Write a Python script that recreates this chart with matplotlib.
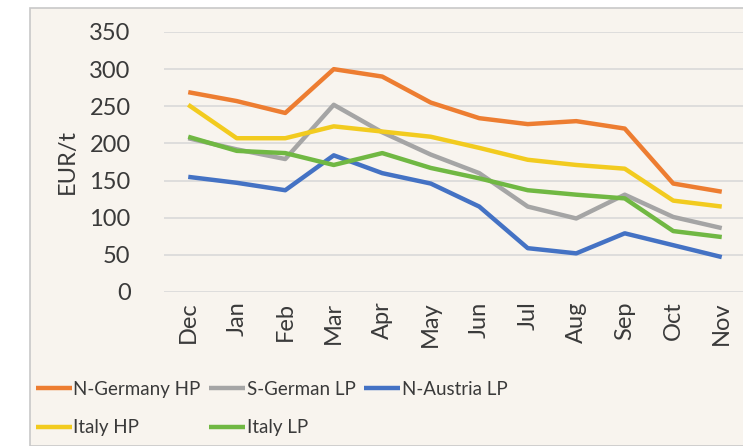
import matplotlib.pyplot as plt
from matplotlib.patches import Rectangle

months = ["Dec", "Jan", "Feb", "Mar", "Apr", "May", "Jun", "Jul", "Aug", "Sep", "Oct", "Nov"]
n_germany_hp = [269, 257, 241, 300, 290, 255, 234, 226, 230, 220, 146, 135]
s_german_lp = [207, 192, 179, 252, 215, 185, 160, 115, 99, 131, 101, 86]
n_austria_lp = [155, 147, 137, 184, 160, 146, 115, 59, 52, 79, 63, 47]
italy_hp = [252, 207, 207, 223, 216, 209, 194, 178, 171, 166, 123, 115]
italy_lp = [209, 190, 187, 171, 187, 167, 153, 137, 131, 126, 82, 74]

series = [
    ("N-Germany HP", n_germany_hp, "#ED7D31"),
    ("S-German LP", s_german_lp, "#A5A5A5"),
    ("N-Austria LP", n_austria_lp, "#4472C4"),
    ("Italy HP", italy_hp, "#F2CB1F"),
    ("Italy LP", italy_lp, "#70B843"),
]

plt.rcParams['font.family'] = ['Lato', 'DejaVu Sans']
bg = "#F8F4EE"
txt = "#3A3A3A"

fig = plt.figure(figsize=(7.43, 4.46), dpi=100)
fig.patch.set_facecolor("white")
fig.patches.append(Rectangle((30 / 743, 0), 1, 1 - 8 / 446, transform=fig.transFigure,
                             facecolor=bg, edgecolor="#C8C8C8", linewidth=1.2, zorder=-10))

ax = fig.add_axes([164 / 743, 1 - 292 / 446, 582 / 743, 260 / 446])
ax.set_facecolor(bg)
x = list(range(len(months)))
lines = {}
for name, vals, col in series:
    lines[name], = ax.plot(x, vals, color=col, linewidth=3.2, label=name, solid_capstyle="butt")

ax.set_xlim(-0.5, 11.5)
ax.set_ylim(0, 350)
ax.set_yticks(range(0, 351, 50))
ax.set_xticks(x)
ax.set_xticklabels(months, rotation=90, fontsize=17, color=txt)
ax.tick_params(axis="y", labelsize=17, labelcolor=txt, length=0, pad=24)
ax.tick_params(axis="x", length=0, pad=7)
ax.grid(axis="y", color="#D9D9D9", linewidth=1.2)
ax.set_axisbelow(True)
for s in ax.spines.values():
    s.set_visible(False)
ax.set_ylabel("EUR/t", fontsize=17, color=txt, labelpad=8)

# column-major fill so the rows read like the original
order = ["N-Germany HP", "Italy HP", "S-German LP", "Italy LP", "N-Austria LP"]
fig.legend([lines[k] for k in order], order, loc="upper left",
           bbox_to_anchor=(19 / 743, 1 - 364 / 446),
           ncol=3, frameon=False, fontsize=13.5, handlelength=1.9, handletextpad=0.1,
           columnspacing=0.45, labelspacing=1.15, labelcolor=txt)

fig.savefig("out.png", dpi=100, facecolor="white")
